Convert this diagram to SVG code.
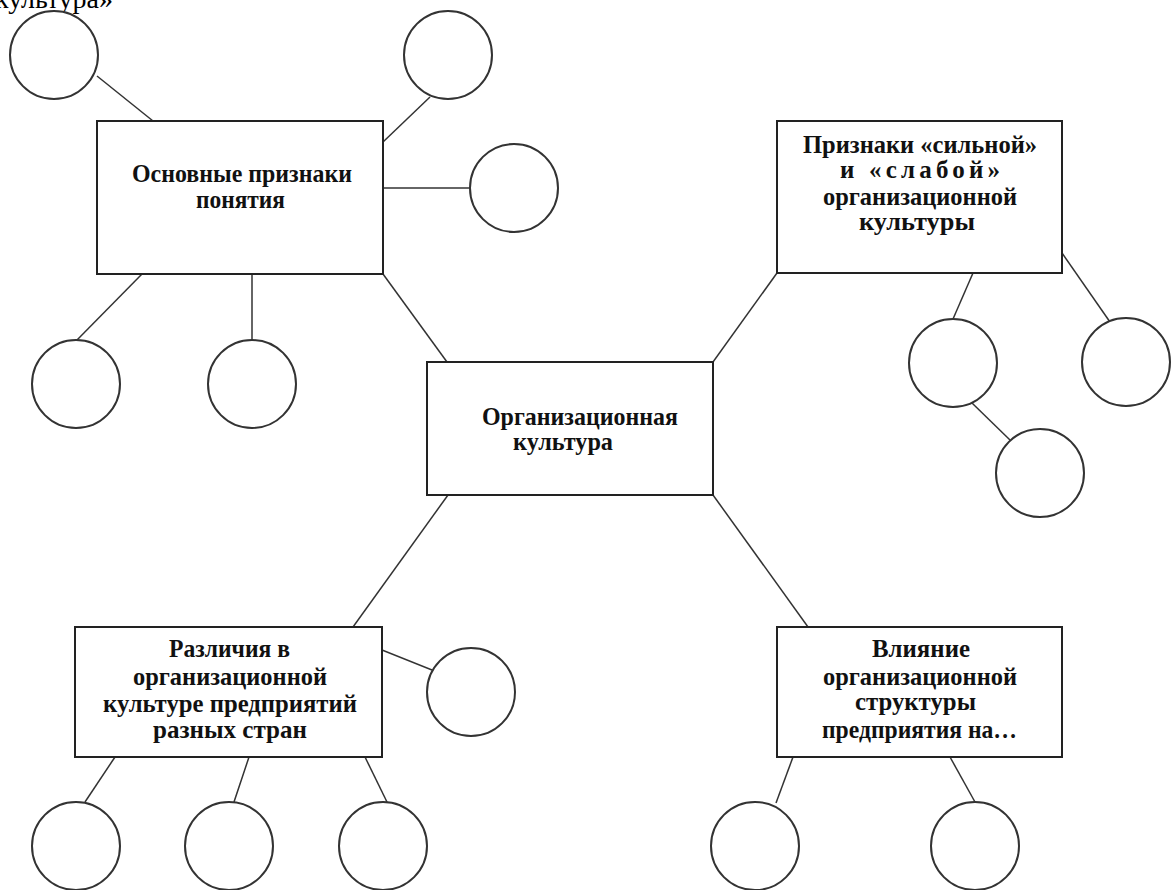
<svg xmlns="http://www.w3.org/2000/svg" width="1171" height="890" viewBox="0 0 1171 890">
<style>
.box{fill:#fff;stroke:#222;stroke-width:2}
.c{fill:#fff;stroke:#333;stroke-width:2}
.ln{stroke:#333;stroke-width:1.5;fill:none}
.t{font-family:"Liberation Serif","Times New Roman",serif;font-weight:bold;font-size:25px;fill:#111}
.hdr{font-family:"Liberation Serif","Times New Roman",serif;font-size:28px;fill:#000}
</style>
<rect width="1171" height="890" fill="#fff"/>
<text class="hdr" x="113" y="8" text-anchor="end">культура»</text>
<g id="connectors">
<line class="ln" x1="97" y1="76" x2="153" y2="121"/>
<line class="ln" x1="430" y1="97" x2="383" y2="142"/>
<line class="ln" x1="383" y1="188" x2="470" y2="188"/>
<line class="ln" x1="142" y1="274" x2="77" y2="340"/>
<line class="ln" x1="252" y1="274" x2="252" y2="340"/>
<line class="ln" x1="383" y1="274" x2="447" y2="362"/>
<line class="ln" x1="777" y1="273" x2="713" y2="362"/>
<line class="ln" x1="973" y1="273" x2="953" y2="319"/>
<line class="ln" x1="1062" y1="253" x2="1110" y2="322"/>
<line class="ln" x1="972" y1="403" x2="1010" y2="440"/>
<line class="ln" x1="448" y1="495" x2="353" y2="627"/>
<line class="ln" x1="713" y1="495" x2="808" y2="627"/>
<line class="ln" x1="382" y1="650" x2="432" y2="670"/>
<line class="ln" x1="115" y1="757" x2="85" y2="802"/>
<line class="ln" x1="249" y1="757" x2="234" y2="802"/>
<line class="ln" x1="365" y1="757" x2="387" y2="802"/>
<line class="ln" x1="793" y1="757" x2="776" y2="803"/>
<line class="ln" x1="950" y1="757" x2="975" y2="802"/>
</g>
<g id="c1"><circle class="c" cx="54" cy="55" r="44"/></g>
<g id="c2"><circle class="c" cx="448" cy="55" r="44"/></g>
<g id="c3"><circle class="c" cx="514" cy="188" r="44"/></g>
<g id="c4"><circle class="c" cx="76" cy="384" r="44"/></g>
<g id="c5"><circle class="c" cx="252" cy="384" r="44"/></g>
<g id="c6"><circle class="c" cx="953" cy="363" r="44"/></g>
<g id="c7"><circle class="c" cx="1126" cy="362" r="44"/></g>
<g id="c8"><circle class="c" cx="1040" cy="473" r="44"/></g>
<g id="c9"><circle class="c" cx="471" cy="692" r="44"/></g>
<g id="c10"><circle class="c" cx="76" cy="846" r="44"/></g>
<g id="c11"><circle class="c" cx="229" cy="846" r="44"/></g>
<g id="c12"><circle class="c" cx="383" cy="846" r="44"/></g>
<g id="c13"><circle class="c" cx="755" cy="846" r="44"/></g>
<g id="c14"><circle class="c" cx="975" cy="846" r="44"/></g>
<g id="box1">
<rect class="box" x="97" y="121" width="286" height="153"/>
<text class="t" x="132" y="182" textLength="220" lengthAdjust="spacingAndGlyphs">Основные признаки</text>
<text class="t" x="196" y="208" textLength="89" lengthAdjust="spacingAndGlyphs">понятия</text>
</g>
<g id="box2">
<rect class="box" x="777" y="121" width="285" height="152"/>
<text class="t" x="803" y="153" textLength="234" lengthAdjust="spacingAndGlyphs">Признаки «сильной»</text>
<text class="t" x="840" y="178" textLength="160">и «слабой»</text>
<text class="t" x="823" y="205" textLength="194" lengthAdjust="spacingAndGlyphs">организационной</text>
<text class="t" x="859" y="230" textLength="116" lengthAdjust="spacingAndGlyphs">культуры</text>
</g>
<g id="center">
<rect class="box" x="427" y="362" width="286" height="133"/>
<text class="t" x="482" y="425" textLength="196" lengthAdjust="spacingAndGlyphs">Организационная</text>
<text class="t" x="513" y="450" textLength="100" lengthAdjust="spacingAndGlyphs">культура</text>
</g>
<g id="box4">
<rect class="box" x="75" y="627" width="307" height="130"/>
<text class="t" x="169" y="657" textLength="121" lengthAdjust="spacingAndGlyphs">Различия в</text>
<text class="t" x="133" y="685" textLength="194" lengthAdjust="spacingAndGlyphs">организационной</text>
<text class="t" x="103" y="712" textLength="254" lengthAdjust="spacingAndGlyphs">культуре предприятий</text>
<text class="t" x="153" y="738" textLength="154" lengthAdjust="spacingAndGlyphs">разных стран</text>
</g>
<g id="box5">
<rect class="box" x="777" y="627" width="285" height="130"/>
<text class="t" x="872" y="657" textLength="98" lengthAdjust="spacingAndGlyphs">Влияние</text>
<text class="t" x="823" y="685" textLength="194" lengthAdjust="spacingAndGlyphs">организационной</text>
<text class="t" x="855" y="710" textLength="121" lengthAdjust="spacingAndGlyphs">структуры</text>
<text class="t" x="822" y="738" textLength="195" lengthAdjust="spacingAndGlyphs">предприятия на…</text>
</g>
</svg>
